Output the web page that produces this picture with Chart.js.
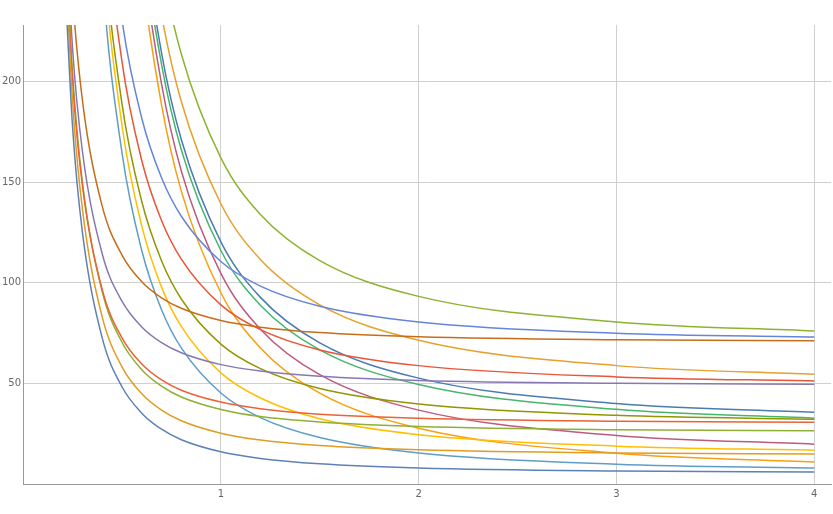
<!DOCTYPE html>
<html>
<head>
<meta charset="utf-8">
<script src="https://cdn.jsdelivr.net/npm/chart.js@4/dist/chart.umd.min.js"></script>
<style>
  html, body { margin: 0; padding: 0; background: #fff; }
  #wrap { width: 833px; height: 514px; }
</style>
</head>
<body>
<div id="wrap"><canvas id="plot"></canvas></div>
<script>
// sample x positions shared by every curve
const xs = [0.2, 0.25, 0.3, 0.4, 0.5, 0.6, 0.7, 0.8, 1, 1.2, 1.5, 2, 3, 4];

// curves (y at each xs)
const blueLow = [274.7, 177.7, 125, 72.6, 48.3, 35.2, 27.2, 22.0, 16.0, 12.7, 10.0, 7.9, 6.4, 5.9];
const orangeLow = [289.5, 190.4, 136.5, 83.0, 58.2, 44.8, 36.7, 31.4, 25.2, 21.8, 19.1, 17.0, 15.4, 14.9];
const redLow = [296.3, 200.4, 148.3, 96.6, 72.6, 59.6, 51.7, 46.6, 40.7, 37.4, 34.7, 32.7, 31.2, 30.7];
const greenLow = [304.8, 204.4, 149.8, 95.6, 70.4, 56.8, 48.6, 43.2, 37.0, 33.5, 30.8, 28.6, 27.0, 26.5];
const purpleLow = [311, 216.6, 165.3, 114.4, 90.8, 78.0, 70.2, 65.2, 59.3, 56.1, 53.5, 51.4, 50.0, 49.5];
const brownLow = [340.9, 243.5, 190.6, 138.0, 113.7, 100.5, 92.5, 87.3, 81.2, 77.9, 75.2, 73.1, 71.6, 71.1];

const lightBlueMid = [1000, 642, 447.6, 254.2, 164.6, 116.0, 86.6, 67.6, 45.2, 33.0, 23.1, 15.4, 9.8, 7.9];
const yellowMid = [1039, 670, 469.7, 270.5, 178.2, 128.2, 97.8, 78.3, 55.2, 42.7, 32.4, 24.5, 18.8, 16.8];
const oliveMid = [1024, 666.5, 471.9, 278.5, 188.9, 140.3, 110.9, 91.9, 69.5, 57.3, 47.4, 39.7, 34.1, 32.2];
const redMid = [1056, 693.5, 496.4, 300.6, 209.9, 160.7, 130.9, 111.7, 89.0, 76.7, 66.6, 58.8, 53.2, 51.2];
const blueMid = [1070, 710.5, 514.9, 320.5, 230.5, 181.7, 152.1, 133.0, 110.5, 98.3, 88.3, 80.5, 74.9, 73.0];

const orangeHigh = [2248, 1440, 1002, 566, 364, 254.7, 188.3, 145.5, 95.0, 67.6, 45.1, 27.7, 15.3, 10.9];
const magentaHigh = [2277, 1462, 1020, 579.7, 376.1, 265.7, 198.7, 155.5, 104.6, 76.9, 54.3, 36.7, 24.1, 19.8];
const tealHigh = [2247, 1448, 1013.8, 582.2, 382.4, 274.1, 208.4, 166.0, 116.0, 88.8, 66.6, 49.4, 37.1, 32.7];
const darkBlueHigh = [2287, 1474.8, 1033, 594.4, 391.2, 281.0, 214.2, 171.1, 120.3, 92.7, 70.1, 52.6, 40.0, 35.6];
const orange2High = [2308, 1495, 1053, 613.8, 410.4, 300.1, 233.2, 190.0, 139.2, 111.5, 89.0, 71.4, 58.8, 54.5];
const greenHigh = [2362, 1537.5, 1089, 643.4, 437.1, 325.2, 257.4, 213.6, 162.0, 133.9, 111.0, 93.2, 80.5, 76.0];

const xTicks = [1, 2, 3, 4];
const yTicks = [50, 100, 150, 200];

const curves = [
    [blueLow, '#5e81b5'], [orangeLow, '#e19c24'], [redLow, '#eb6235'],
    [greenLow, '#8fb032'], [purpleLow, '#8778b3'], [brownLow, '#c56e1a'],
    [lightBlueMid, '#5d9ec7'], [yellowMid, '#ffbf00'], [oliveMid, '#929600'],
    [redMid, '#e95536'], [blueMid, '#6685d9'],
    [orangeHigh, '#f89f13'], [magentaHigh, '#bc5b80'], [tealHigh, '#47b66d'],
    [darkBlueHigh, '#4a7bb3'], [orange2High, '#e5a12b'], [greenHigh, '#8db331']
];

function main() {
    const datasets = curves.map(([ys, color]) => ({
        data: xs.map((x, i) => ({ x: x, y: ys[i] })),
        borderColor: color,
        borderWidth: 1.5,
        pointRadius: 0,
        fill: false,
        cubicInterpolationMode: 'monotone'
    }));

    const tickFont = { family: 'DejaVu Sans', size: 10 };
    new Chart(document.getElementById('plot'), {
        type: 'line',
        data: { datasets: datasets },
        options: {
            responsive: true,
            maintainAspectRatio: false,
            animation: false,
            layout: { padding: { top: 25, right: 2, left: 0, bottom: 10 } },
            plugins: { legend: { display: false }, tooltip: { enabled: false } },
            scales: {
                x: {
                    type: 'linear', min: 0, max: 4.085,
                    afterBuildTicks: s => { s.ticks = xTicks.map(v => ({ value: v })); },
                    ticks: { color: '#666', font: tickFont, padding: 4 },
                    grid: { color: '#cfcfcf', drawTicks: false },
                    border: { color: '#999' }
                },
                y: {
                    min: 0, max: 228,
                    afterBuildTicks: s => { s.ticks = yTicks.map(v => ({ value: v })); },
                    ticks: { color: '#666', font: tickFont, padding: 2 },
                    grid: { color: '#cfcfcf', drawTicks: false },
                    border: { color: '#999' }
                }
            }
        }
    });
}

document.addEventListener("DOMContentLoaded", () => {
    main();
})
</script>
</body>
</html>
